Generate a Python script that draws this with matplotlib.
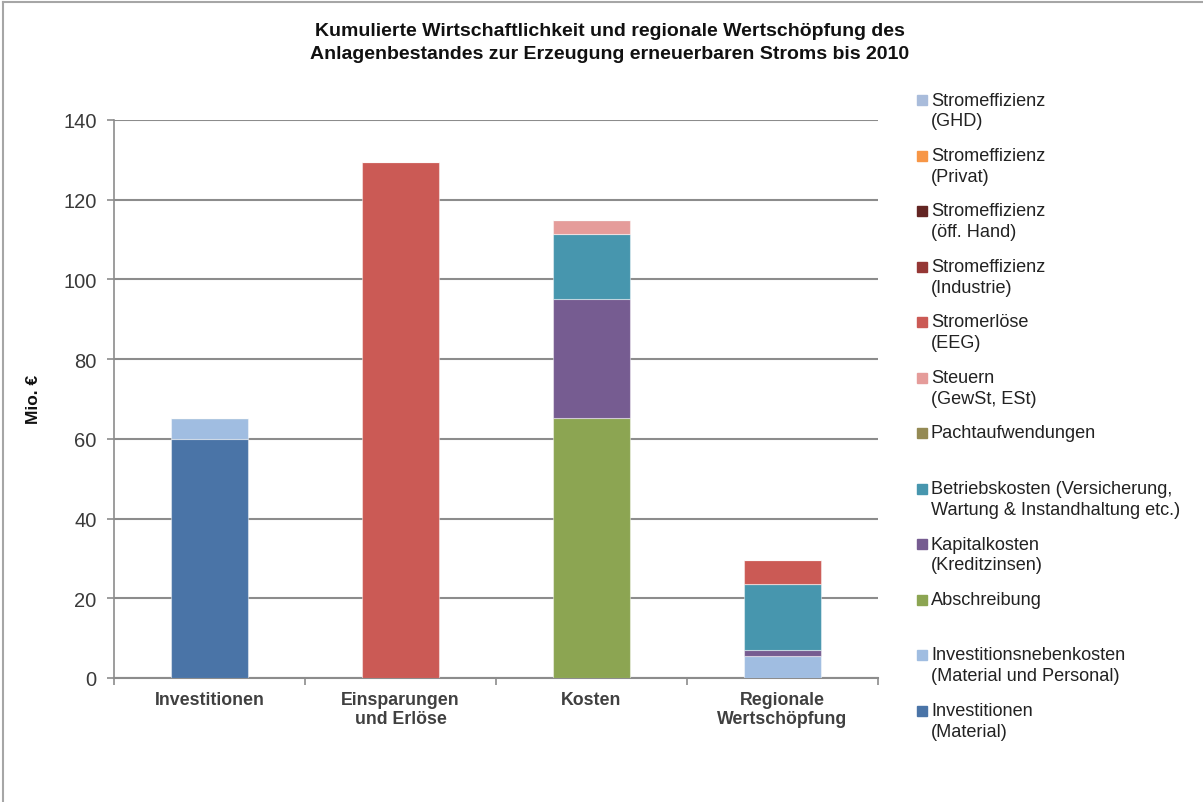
import matplotlib
matplotlib.use("Agg")
import matplotlib.pyplot as plt
from matplotlib.lines import Line2D
import numpy as np

plt.rcParams['font.family'] = ['Liberation Sans', 'DejaVu Sans']

categories = ["Investitionen", "Einsparungen\nund Erlöse", "Kosten", "Regionale\nWertschöpfung"]

# series (stack order bottom -> top)
investitionen_material = [60.0, 0, 0, 0]
investitionsnebenkosten = [5.2, 0, 0, 5.6]
abschreibung = [0, 0, 65.2, 0]
kapitalkosten = [0, 0, 29.9, 1.4]
betriebskosten = [0, 0, 16.3, 16.7]
pachtaufwendungen = [0, 0, 0, 0]
steuern = [0, 0, 3.6, 0]
stromerloese = [0, 129.5, 0, 5.9]
se_industrie = [0, 0, 0, 0]
se_oeff = [0, 0, 0, 0]
se_privat = [0, 0, 0, 0]
se_ghd = [0, 0, 0, 0]

series = [
    ("Investitionen\n(Material)", investitionen_material, "#4A74A7"),
    ("Investitionsnebenkosten\n(Material und Personal)", investitionsnebenkosten, "#A0BDE1"),
    ("Abschreibung", abschreibung, "#8CA552"),
    ("Kapitalkosten\n(Kreditzinsen)", kapitalkosten, "#765C91"),
    ("Betriebskosten (Versicherung,\nWartung & Instandhaltung etc.)", betriebskosten, "#4796AE"),
    ("Pachtaufwendungen", pachtaufwendungen, "#948A54"),
    ("Steuern\n(GewSt, ESt)", steuern, "#E59C9A"),
    ("Stromerlöse\n(EEG)", stromerloese, "#CB5A55"),
    ("Stromeffizienz\n(Industrie)", se_industrie, "#953735"),
    ("Stromeffizienz\n(öff. Hand)", se_oeff, "#632523"),
    ("Stromeffizienz\n(Privat)", se_privat, "#F79646"),
    ("Stromeffizienz\n(GHD)", se_ghd, "#A9BCDB"),
]

W, H = 1203, 803
fig = plt.figure(figsize=(W / 100, H / 100), dpi=100)
ax = fig.add_axes([114 / W, 1 - 679 / H, (878 - 114) / W, (679 - 121) / H])

x = np.arange(len(categories))
bottom = np.zeros(len(categories))
for label, vals, col in series:
    v = np.array(vals, dtype=float)
    ax.bar(x, v, width=0.4, bottom=bottom, color=col, edgecolor=(1, 1, 1, 0.45),
           linewidth=0.8, zorder=3)
    bottom += v

ax.set_xlim(-0.5, 3.5)
ax.set_ylim(0, 140)
ax.set_yticks(np.arange(0, 141, 20))
ax.yaxis.grid(True, color="#8C8C8C", linewidth=1.5, zorder=0)
ax.set_axisbelow(True)
for s in ["top", "right"]:
    ax.spines[s].set_visible(False)
ax.spines["left"].set_color("#8C8C8C")
ax.spines["bottom"].set_color("#8C8C8C")
ax.spines["left"].set_linewidth(1.2)
ax.spines["bottom"].set_linewidth(1.5)
ax.tick_params(axis="y", labelsize=14.5, labelcolor="#3A3A3A", color="#8C8C8C",
               length=5, width=1.2, pad=7.5)
ax.set_xticks(np.arange(-0.5, 4, 1.0))
ax.set_xticklabels([])
ax.tick_params(axis="x", color="#8C8C8C", length=5, width=1.2)
for i, c in enumerate(categories):
    ax.text(i, -3.2, c, ha="center", va="top", fontsize=12.8, fontweight="bold",
            color="#404040", linespacing=1.2, transform=ax.transData)

fig.text(34 / W, 1 - 399 / H, "Mio. €", rotation=90, ha="center", va="center",
         fontsize=12.5, fontweight="bold", color="#111111")

fig.text(610 / W, 1 - 43 / H,
         "Kumulierte Wirtschaftlichkeit und regionale Wertschöpfung des\n"
         "Anlagenbestandes zur Erzeugung erneuerbaren Stroms bis 2010",
         ha="center", va="center", fontsize=14, fontweight="bold", color="#111111",
         linespacing=1.45)

# legend (top to bottom: reverse of stack order)
y0 = 101
step = 55.5
for k, (label, vals, col) in enumerate(reversed(series)):
    yc = y0 + k * step
    fig.add_artist(Line2D([922 / W], [1 - yc / H], marker="s", markersize=6.5,
                          color=col, linestyle="none", transform=fig.transFigure))
    fig.text(931 / W, 1 - (yc - 8.5) / H, label, ha="left", va="top", fontsize=13.1,
             color="#222222", linespacing=1.3)

# frame lines (top and left visible)
fig.add_artist(Line2D([3 / W, 3 / W], [0, 1 - 3 / H], color="#A6A6A6", linewidth=1.5,
                      transform=fig.transFigure))
fig.add_artist(Line2D([3 / W, 1], [1 - 3 / H, 1 - 3 / H], color="#A6A6A6", linewidth=1.5,
                      transform=fig.transFigure))

fig.savefig("out.png", dpi=100, facecolor="white")
